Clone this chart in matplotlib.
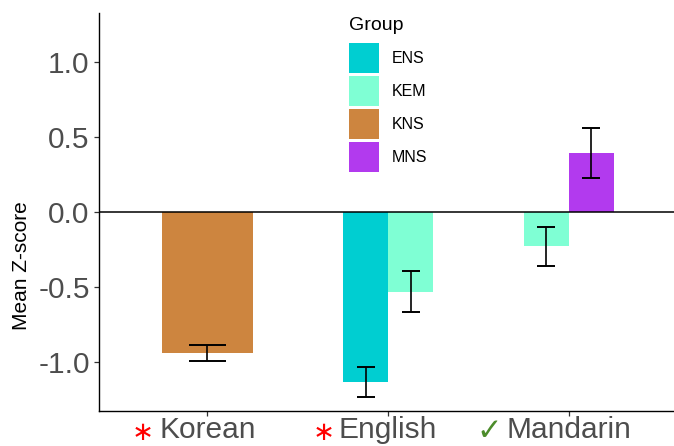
import matplotlib
matplotlib.use("Agg")
import matplotlib.pyplot as plt
from matplotlib.patches import Patch
from matplotlib.transforms import blended_transform_factory

# Data
languages = ["Korean", "English", "Mandarin"]
groups = ["ENS", "KEM", "KNS", "MNS"]
group_colors = ["#00CED1", "#7FFFD4", "#CD853F", "#B23AEE"]

bar_language = ["Korean", "English", "English", "Mandarin", "Mandarin"]
bar_group = ["KNS", "ENS", "KEM", "KEM", "MNS"]
bar_mean = [-0.942, -1.136, -0.532, -0.231, 0.392]
bar_se = [0.053, 0.099, 0.135, 0.131, 0.165]

# marks shown beside each language label
lang_mark = ["\u2217", "\u2217", "\u2713"]
lang_mark_color = ["#FF0000", "#FF0000", "#4C8C2B"]

W, H, DPI = 674, 446, 100
fig = plt.figure(figsize=(W / DPI, H / DPI), dpi=DPI)

ax_left, ax_right_px = 99, 677.3
ax_top, ax_bottom = 13.3, 410.5
ax = fig.add_axes([ax_left / W, 1 - ax_bottom / H,
                   (ax_right_px - ax_left) / W, (ax_bottom - ax_top) / H])

text_font = ["Liberation Sans", "DejaVu Sans"]
group_width = 0.5
color_of = dict(zip(groups, group_colors))

for li, lang in enumerate(languages):
    idx = [i for i, l in enumerate(bar_language) if l == lang]
    n = len(idx)
    w = group_width / n
    for k, i in enumerate(idx):
        x = (li + 1) - group_width / 2 + w * (k + 0.5)
        ax.bar(x, bar_mean[i], width=w, color=color_of[bar_group[i]],
               edgecolor="none", zorder=2)
        ax.errorbar(x, bar_mean[i], yerr=bar_se[i], fmt="none",
                    ecolor="black", elinewidth=1.2, capsize=0, zorder=4)
        cap = 0.4 * w / 2
        ax.hlines([bar_mean[i] - bar_se[i], bar_mean[i] + bar_se[i]],
                  x - cap, x + cap, color="black", lw=1.4, zorder=4)

ax.axhline(0, color="black", lw=1.1, zorder=3)

ax.set_xlim(0.4, 3.6)
ax.set_ylim(-1.325, 1.323)
ax.set_yticks([-1.0, -0.5, 0.0, 0.5, 1.0])
ax.set_yticklabels(["-1.0", "-0.5", "0.0", "0.5", "1.0"])
ax.set_xticks([1, 2, 3])
ax.set_xticklabels(languages)

for s in ["top", "right"]:
    ax.spines[s].set_visible(False)
for s in ["left", "bottom"]:
    ax.spines[s].set_color("black")
    ax.spines[s].set_linewidth(1.0)

ax.tick_params(axis="both", colors="#333333", length=3.3, width=0.9,
               labelcolor="#4D4D4D", labelsize=21.5)
ax.tick_params(axis="y", pad=3.4)
ax.tick_params(axis="x", pad=1.0)
for lab in ax.get_xticklabels() + ax.get_yticklabels():
    lab.set_family(text_font)

ax.set_ylabel("Mean Z-score", fontsize=15, family=text_font, color="black")
ax.yaxis.set_label_coords((22 - ax_left) / (ax_right_px - ax_left),
                          (ax_bottom - 266) / (ax_bottom - ax_top))
ax.yaxis.label.set_va("center")

# markers beside language labels
trans = blended_transform_factory(ax.transData, fig.transFigure)
mark_dx = [-0.357, -0.354, -0.441]
mark_size = [19, 19, 22]
mark_base = [440, 440, 440]
for li, (m, c) in enumerate(zip(lang_mark, lang_mark_color)):
    ax.text(li + 1 + mark_dx[li], 1 - mark_base[li] / H, m, transform=trans,
            ha="center", va="baseline", fontsize=mark_size[li], color=c,
            family=["DejaVu Sans"], clip_on=False)

handles = [Patch(facecolor=c, edgecolor="none", label=g)
           for g, c in zip(groups, group_colors)]
leg = ax.legend(handles=handles, title="Group", loc="upper left",
                bbox_to_anchor=(349 / W, 1 - 17 / H),
                bbox_transform=fig.transFigure, frameon=False,
                borderpad=0, borderaxespad=0,
                handlelength=1.88, handleheight=2.51,
                labelspacing=0.19, handletextpad=0.78,
                prop={"family": text_font, "size": 11.5},
                title_fontproperties={"family": text_font, "size": 14},
                alignment="left")
# extra room between the legend title and its keys
leg._legend_box.sep = 6.5

fig.savefig("out.png", dpi=DPI)
